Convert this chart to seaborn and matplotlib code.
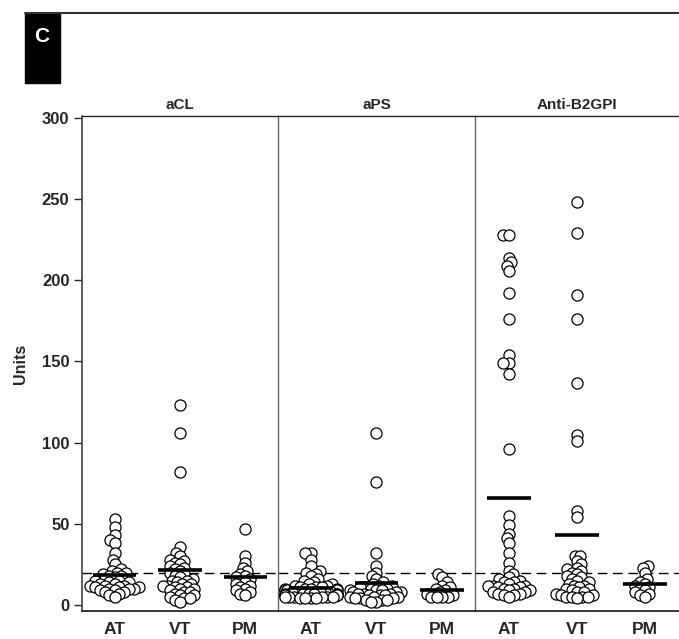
import matplotlib
matplotlib.use("Agg")
import numpy as np
import pandas as pd
import matplotlib.pyplot as plt
from matplotlib.collections import PathCollection
from matplotlib.lines import Line2D
from matplotlib.patches import Rectangle
import seaborn as sns

# --- Datos (Units) ---
GROUPS = ["AT", "VT", "PM"]
PANELS = ["aCL", "aPS", "Anti-B2GPI"]
CUTOFF = 20
Y_TICKS = [0, 50, 100, 150, 200, 250, 300]

acl_at = [53, 48, 43, 40, 38, 32, 28, 25, 22, 21, 20, 20, 19, 18, 18, 17, 16, 15, 15,
          14, 14, 13, 13, 12, 12, 12, 11, 11, 11, 10, 10, 10, 9, 9, 8, 8, 7, 6, 5]
acl_vt = [123, 106, 82, 36, 32, 30, 28, 27, 26, 25, 24, 23, 22, 21, 20, 19, 18, 17, 16,
          15, 15, 14, 13, 13, 12, 12, 11, 11, 10, 10, 9, 8, 8, 7, 6, 6, 5, 4, 4, 3, 2]
acl_pm = [47, 30, 26, 23, 21, 19, 18, 17, 16, 15, 14, 13, 12, 11, 10, 9, 8, 7, 6]

aps_at = [32, 32, 28, 24, 21, 20, 19, 18, 16, 15, 14, 13, 13, 12, 12, 11, 11, 11,
          10, 10, 10, 10, 9, 9, 9, 9, 9, 8, 8, 8, 8, 8, 7, 7, 7, 7, 7, 7,
          6, 6, 6, 6, 6, 6, 6, 5, 5, 5, 5, 5, 5, 4, 4, 4, 4]
aps_vt = [106, 76, 32, 24, 20, 18, 16, 14, 13, 12, 12, 11, 11, 10, 10, 9, 9, 9, 8, 8,
          8, 7, 7, 7, 6, 6, 6, 5, 5, 5, 4, 4, 4, 3, 3, 3, 2, 2]
aps_pm = [19, 17, 14, 12, 11, 10, 9, 8, 7, 6, 5, 5, 5, 5]

b2_at = [228, 228, 214, 211, 209, 206, 192, 176, 154, 149, 149, 142, 96,
         55, 49, 44, 41, 38, 32, 26, 21, 19, 17, 16, 15, 14, 14, 13, 12, 12, 12,
         11, 11, 10, 10, 9, 9, 8, 8, 7, 7, 6, 6, 5]
b2_vt = [248, 229, 191, 176, 137, 105, 101, 58, 54, 30, 30, 27, 25, 23, 22, 21, 20,
         19, 18, 17, 16, 15, 14, 13, 12, 12, 11, 10, 10, 9, 8, 8, 7, 6, 6, 5, 5, 5, 5, 4]
b2_pm = [24, 23, 20, 16, 14, 13, 12, 11, 10, 9, 8, 7, 6, 5]

PANEL_DATA = [(acl_at, acl_vt, acl_pm), (aps_at, aps_vt, aps_pm), (b2_at, b2_vt, b2_pm)]

LAYOUT_SIZE = 2.9   # tamaño usado para calcular el enjambre (permite solapamiento)
DOT_SIZE = 8.0      # tamaño real de los círculos


def make_frame(values):
    rows = []
    for grp, vals in zip(GROUPS, values):
        rows += [(grp, v) for v in vals]
    return pd.DataFrame(rows, columns=["group", "units"])


sns.set_style("ticks")
plt.rcParams["font.family"] = ["Liberation Sans", "DejaVu Sans"]
plt.rcParams["font.weight"] = "bold"

fig = plt.figure(figsize=(6.79, 6.39), dpi=100)
gs = fig.add_gridspec(1, 3, left=82 / 679, right=1.0, top=1 - 116 / 639, bottom=1 - 611 / 639,
                      wspace=0, width_ratios=[196, 197, 204])
axes = [fig.add_subplot(gs[0, i]) for i in range(3)]

for i, (ax, name, values) in enumerate(zip(axes, PANELS, PANEL_DATA)):
    df = make_frame(values)
    ax.axhline(CUTOFF, color="black", lw=1, dashes=(7, 4), zorder=0)
    sns.swarmplot(data=df, x="group", y="units", order=GROUPS, color="white",
                  edgecolor="black", linewidth=0.9, size=LAYOUT_SIZE, ax=ax, zorder=3)
    means = df.groupby("group")["units"].mean().reindex(GROUPS)
    for j, m in enumerate(means):
        ax.hlines(m, j - 0.33, j + 0.33, color="black", lw=2.6, zorder=6)

    ax.set_xlim(-0.5, 2.5)
    ax.set_ylim(-3.7, 301.2)
    ax.set_xlabel("")
    ax.set_title(name, fontsize=11, fontweight="bold", pad=5)
    ax.tick_params(axis="x", length=0, pad=8, labelsize=12.5)
    for lab in ax.get_xticklabels():
        lab.set_fontweight("bold")
    ax.spines["right"].set_visible(False)
    ax.spines["top"].set_linewidth(1.0)
    ax.spines["bottom"].set_linewidth(1.3)
    if i == 0:
        ax.set_yticks(Y_TICKS)
        ax.set_ylabel("Units", fontsize=11.5, fontweight="bold", labelpad=10)
        ax.tick_params(axis="y", length=6, width=1, pad=3, labelsize=12)
        ax.spines["left"].set_color("#444444")
        ax.spines["left"].set_linewidth(1.2)
    else:
        ax.set_ylabel("")
        ax.set_yticks(Y_TICKS)
        ax.tick_params(axis="y", length=0, labelleft=False)
        ax.spines["left"].set_color("#666666")
        ax.spines["left"].set_linewidth(1.0)

# Primer dibujo: seaborn coloca el enjambre con el tamaño pequeño,
# luego se fijan las posiciones y se agrandan los círculos.
fig.canvas.draw()
for ax in axes:
    for coll in ax.collections:
        if isinstance(coll, PathCollection):
            coll.__dict__.pop("draw", None)
            coll.set_sizes([DOT_SIZE ** 2])

# Marco del panel "C"
fig.add_artist(Line2D([25 / 679, 1.0], [1 - 13 / 639, 1 - 13 / 639],
                      color="#333333", lw=1.5, transform=fig.transFigure))
fig.add_artist(Rectangle((25 / 679, 1 - 83 / 639), 35 / 679, 70 / 639,
                         color="black", transform=fig.transFigure))
fig.text(42 / 679, 1 - 36 / 639, "C", color="white", fontsize=15, fontweight="bold",
         ha="center", va="center")

fig.savefig("out.png", dpi=100)
